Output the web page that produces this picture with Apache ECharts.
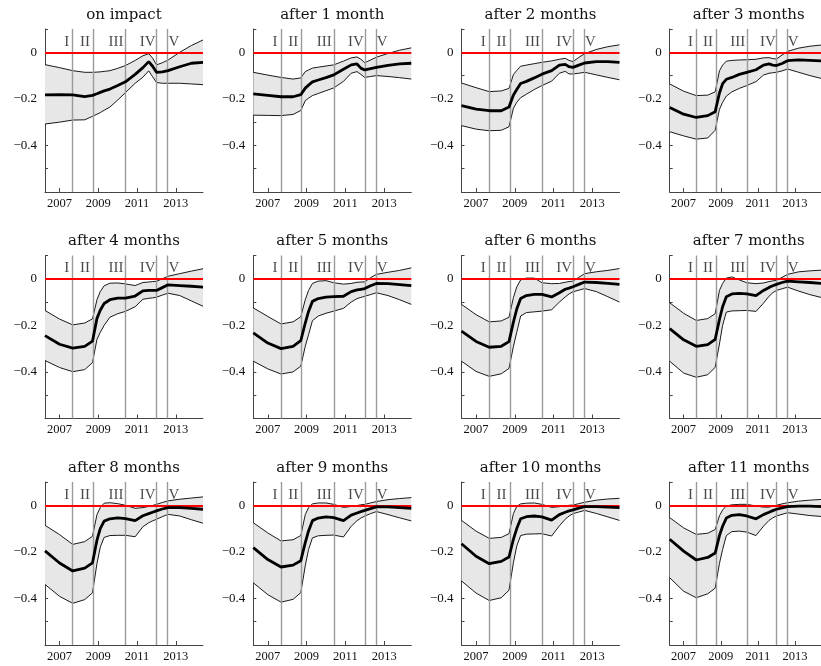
<!DOCTYPE html>
<html><head><meta charset="utf-8">
<script src="https://cdn.jsdelivr.net/npm/echarts@6/dist/echarts.min.js"></script>
<style>html,body{margin:0;padding:0;background:#fff}#c{width:821px;height:666px}</style>
</head><body><div id="c"></div>
<script>
// ---------- data ----------
const titles = ['on impact','after 1 month','after 2 months','after 3 months','after 4 months','after 5 months','after 6 months','after 7 months','after 8 months','after 9 months','after 10 months','after 11 months'];
const years = [2006.25, 2007.0, 2007.68, 2008.3, 2008.7, 2008.93, 2009.1, 2009.3, 2009.6, 2010.0, 2010.4, 2010.9, 2011.3, 2011.6, 2011.8, 2012.0, 2012.3, 2012.6, 2013.2, 2013.8, 2014.4];
const xTickYears = [2007, 2009, 2011, 2013];
const yTickValues = [0.1, 0, -0.1, -0.2, -0.3, -0.4, -0.5, -0.6];
const yLabelValues = [0, -0.2, -0.4];
const regimeBreaks = [2007.68, 2008.74, 2010.41, 2012.0, 2012.57];
const regimeNames = ['I', 'II', 'III', 'IV', 'V'];
const regimeLabelX = [2007.37, 2008.31, 2009.91, 2011.54, 2012.9];
const regimeLabelY = 0.045;

const m0 = [-0.183,-0.182,-0.183,-0.19,-0.185,-0.178,-0.172,-0.166,-0.158,-0.143,-0.127,-0.095,-0.066,-0.04,-0.06,-0.086,-0.084,-0.079,-0.062,-0.047,-0.043];
const up0 = [-0.053,-0.066,-0.079,-0.086,-0.086,-0.085,-0.084,-0.082,-0.079,-0.069,-0.057,-0.035,-0.015,-0.006,-0.025,-0.054,-0.045,-0.033,0.0,0.029,0.053];
const lo0 = [-0.308,-0.300,-0.291,-0.290,-0.275,-0.266,-0.259,-0.249,-0.235,-0.205,-0.173,-0.133,-0.107,-0.08,-0.105,-0.13,-0.133,-0.133,-0.133,-0.136,-0.139];

const m1 = [-0.179,-0.185,-0.191,-0.191,-0.182,-0.154,-0.141,-0.127,-0.119,-0.109,-0.097,-0.073,-0.054,-0.05,-0.068,-0.076,-0.07,-0.065,-0.056,-0.05,-0.047];
const up1 = [-0.086,-0.098,-0.108,-0.115,-0.11,-0.083,-0.076,-0.068,-0.064,-0.059,-0.054,-0.038,-0.024,-0.02,-0.03,-0.045,-0.033,-0.021,-0.005,0.009,0.019];
const lo1 = [-0.27,-0.271,-0.272,-0.267,-0.25,-0.208,-0.197,-0.186,-0.177,-0.165,-0.153,-0.125,-0.09,-0.083,-0.095,-0.108,-0.104,-0.1,-0.104,-0.109,-0.115];

const m2 = [-0.229,-0.244,-0.251,-0.251,-0.235,-0.183,-0.16,-0.134,-0.125,-0.11,-0.094,-0.079,-0.055,-0.052,-0.062,-0.065,-0.055,-0.046,-0.04,-0.04,-0.043];
const up2 = [-0.132,-0.152,-0.169,-0.166,-0.155,-0.095,-0.078,-0.06,-0.055,-0.049,-0.043,-0.037,-0.03,-0.026,-0.035,-0.04,-0.022,-0.006,0.012,0.024,0.032];
const lo2 = [-0.315,-0.33,-0.337,-0.335,-0.32,-0.24,-0.215,-0.195,-0.18,-0.16,-0.143,-0.124,-0.09,-0.082,-0.093,-0.093,-0.09,-0.086,-0.097,-0.108,-0.118];

const m3 = [-0.237,-0.266,-0.28,-0.272,-0.255,-0.175,-0.135,-0.116,-0.108,-0.095,-0.086,-0.075,-0.055,-0.05,-0.055,-0.057,-0.048,-0.036,-0.033,-0.035,-0.037];
const up3 = [-0.136,-0.167,-0.186,-0.184,-0.17,-0.08,-0.055,-0.038,-0.035,-0.033,-0.032,-0.03,-0.024,-0.023,-0.027,-0.029,-0.012,0.004,0.018,0.026,0.031];
const lo3 = [-0.341,-0.359,-0.373,-0.368,-0.335,-0.245,-0.215,-0.188,-0.17,-0.155,-0.143,-0.126,-0.098,-0.09,-0.088,-0.086,-0.08,-0.072,-0.086,-0.1,-0.112];

const m4 = [-0.244,-0.281,-0.298,-0.29,-0.268,-0.17,-0.135,-0.106,-0.09,-0.083,-0.083,-0.074,-0.052,-0.05,-0.05,-0.05,-0.038,-0.026,-0.029,-0.032,-0.036];
const up4 = [-0.136,-0.173,-0.198,-0.19,-0.172,-0.09,-0.055,-0.03,-0.019,-0.018,-0.022,-0.029,-0.016,-0.014,-0.012,-0.011,0.0,0.011,0.022,0.033,0.043];
const lo4 = [-0.351,-0.381,-0.399,-0.39,-0.36,-0.26,-0.23,-0.2,-0.165,-0.15,-0.14,-0.12,-0.088,-0.084,-0.082,-0.079,-0.07,-0.062,-0.072,-0.095,-0.118];

const m5 = [-0.232,-0.276,-0.3,-0.29,-0.266,-0.19,-0.14,-0.097,-0.085,-0.079,-0.077,-0.075,-0.055,-0.048,-0.045,-0.042,-0.03,-0.02,-0.021,-0.025,-0.029];
const up5 = [-0.125,-0.162,-0.194,-0.185,-0.163,-0.09,-0.05,-0.02,-0.01,-0.008,-0.017,-0.023,-0.02,-0.015,-0.014,-0.013,0.005,0.019,0.028,0.036,0.047];
const lo5 = [-0.354,-0.387,-0.409,-0.4,-0.375,-0.29,-0.24,-0.18,-0.16,-0.148,-0.139,-0.127,-0.1,-0.085,-0.08,-0.075,-0.068,-0.06,-0.072,-0.09,-0.11];

const m6 = [-0.225,-0.269,-0.294,-0.29,-0.27,-0.185,-0.13,-0.085,-0.072,-0.067,-0.067,-0.078,-0.06,-0.045,-0.04,-0.034,-0.024,-0.014,-0.016,-0.02,-0.024];
const up6 = [-0.11,-0.154,-0.185,-0.181,-0.165,-0.08,-0.035,-0.005,0.003,0.003,-0.017,-0.021,-0.02,-0.015,-0.012,-0.01,0.006,0.022,0.03,0.036,0.044];
const lo6 = [-0.354,-0.398,-0.419,-0.408,-0.385,-0.29,-0.23,-0.16,-0.145,-0.142,-0.139,-0.133,-0.1,-0.078,-0.065,-0.056,-0.049,-0.042,-0.055,-0.077,-0.1];

const m7 = [-0.214,-0.262,-0.29,-0.283,-0.26,-0.175,-0.12,-0.077,-0.065,-0.063,-0.065,-0.072,-0.05,-0.037,-0.03,-0.024,-0.016,-0.01,-0.013,-0.016,-0.02];
const up7 = [-0.103,-0.148,-0.179,-0.171,-0.15,-0.05,-0.02,0.003,0.008,-0.005,-0.017,-0.021,-0.018,-0.012,-0.009,-0.007,0.006,0.019,0.03,0.034,0.037];
const lo7 = [-0.354,-0.405,-0.423,-0.412,-0.38,-0.28,-0.2,-0.143,-0.138,-0.137,-0.136,-0.14,-0.105,-0.075,-0.06,-0.05,-0.043,-0.036,-0.053,-0.068,-0.08];

const m8 = [-0.196,-0.248,-0.282,-0.27,-0.247,-0.15,-0.1,-0.068,-0.058,-0.054,-0.057,-0.066,-0.045,-0.036,-0.03,-0.024,-0.016,-0.01,-0.01,-0.013,-0.017];
const up8 = [-0.086,-0.126,-0.168,-0.156,-0.133,-0.04,-0.01,0.009,0.011,0.007,0.0,-0.013,-0.01,-0.005,-0.001,0.004,0.012,0.019,0.026,0.031,0.036];
const lo8 = [-0.34,-0.391,-0.421,-0.405,-0.376,-0.25,-0.18,-0.138,-0.13,-0.129,-0.129,-0.135,-0.092,-0.075,-0.067,-0.06,-0.049,-0.039,-0.046,-0.062,-0.077];

const m9 = [-0.182,-0.233,-0.265,-0.257,-0.238,-0.16,-0.11,-0.066,-0.055,-0.05,-0.053,-0.066,-0.042,-0.033,-0.027,-0.022,-0.014,-0.007,-0.007,-0.01,-0.013];
const up9 = [-0.075,-0.119,-0.153,-0.148,-0.13,-0.04,-0.01,0.006,0.01,0.01,0.004,-0.009,-0.005,-0.001,0.002,0.004,0.01,0.016,0.024,0.029,0.033];
const lo9 = [-0.333,-0.384,-0.416,-0.404,-0.375,-0.26,-0.19,-0.14,-0.131,-0.129,-0.128,-0.136,-0.09,-0.066,-0.055,-0.046,-0.036,-0.027,-0.04,-0.054,-0.067];

const m10 = [-0.165,-0.219,-0.251,-0.241,-0.222,-0.145,-0.1,-0.058,-0.049,-0.046,-0.05,-0.064,-0.04,-0.03,-0.024,-0.02,-0.012,-0.006,-0.006,-0.008,-0.01];
const up10 = [-0.065,-0.111,-0.142,-0.138,-0.122,-0.035,-0.005,0.006,0.009,0.01,0.004,-0.009,-0.006,-0.002,0.0,0.001,0.007,0.013,0.022,0.027,0.03];
const lo10 = [-0.325,-0.377,-0.409,-0.397,-0.365,-0.245,-0.175,-0.13,-0.124,-0.123,-0.122,-0.132,-0.088,-0.06,-0.046,-0.036,-0.029,-0.022,-0.035,-0.05,-0.065];

const m11 = [-0.146,-0.197,-0.235,-0.224,-0.205,-0.13,-0.09,-0.055,-0.043,-0.04,-0.046,-0.058,-0.04,-0.03,-0.023,-0.017,-0.011,-0.006,-0.004,-0.004,-0.006];
const up11 = [-0.053,-0.097,-0.125,-0.12,-0.104,-0.045,-0.02,-0.003,0.002,0.004,0.004,-0.003,-0.008,-0.008,-0.004,0.0,0.006,0.011,0.018,0.022,0.025];
const lo11 = [-0.311,-0.369,-0.397,-0.38,-0.356,-0.25,-0.19,-0.13,-0.113,-0.111,-0.115,-0.13,-0.09,-0.065,-0.054,-0.046,-0.039,-0.032,-0.038,-0.044,-0.048];

const means = [m0,m1,m2,m3,m4,m5,m6,m7,m8,m9,m10,m11];
const uppers = [up0,up1,up2,up3,up4,up5,up6,up7,up8,up9,up10,up11];
const lowers = [lo0,lo1,lo2,lo3,lo4,lo5,lo6,lo7,lo8,lo9,lo10,lo11];

// ---------- layout ----------
const colLeft = [45, 253.3, 461.5, 669.7];
const rowTop = [29, 255.5, 482];
const gw = 158, gh = 163;
const serif = '"Liberation Serif", "DejaVu Serif", serif';

const grid = [], xAxis = [], yAxis = [], series = [], graphic = [];
const fmtY = v => (v === 0 ? '0' : (v < 0 ? '\u2212' : '') + Math.abs(v).toFixed(1));

function bandRenderer(lo, up) {
  return function (params, api) {
    if (params.dataIndex !== 0) return null;
    const top = years.map((x, j) => api.coord([x, up[j]]));
    const bot = years.map((x, j) => api.coord([x, lo[j]])).reverse();
    return {type: 'polygon', shape: {points: top.concat(bot)}, style: {fill: '#e7e7e7', stroke: null}, silent: true};
  };
}

for (let i = 0; i < 12; i++) {
  const r = Math.floor(i / 4), c = i % 4;
  const L = colLeft[c], T = rowTop[r];
  grid.push({left: L, top: T, width: gw, height: gh, containLabel: false});
  xAxis.push({
    type: 'value', gridIndex: i, min: 2006.25, max: 2014.4,
    axisLine: {show: true, onZero: false, lineStyle: {color: '#444', width: 1}},
    axisTick: {show: true, inside: true, length: 4, customValues: xTickYears, lineStyle: {color: '#444'}},
    axisLabel: {show: true, customValues: xTickYears, margin: 5, color: '#111', fontFamily: serif, fontSize: 12.5, formatter: v => String(Math.round(v))},
    splitLine: {show: false}
  });
  yAxis.push({
    type: 'value', gridIndex: i, min: -0.6, max: 0.1,
    axisLine: {show: true, onZero: false, lineStyle: {color: '#444', width: 1}},
    axisTick: {show: true, inside: true, length: 3, customValues: yTickValues, lineStyle: {color: '#444'}},
    axisLabel: {show: true, customValues: yLabelValues, margin: 8, color: '#111', fontFamily: serif, fontSize: 13, formatter: fmtY},
    splitLine: {show: false}
  });
  const lo = lowers[i], up = uppers[i], m = means[i];
  series.push({
    type: 'custom', xAxisIndex: i, yAxisIndex: i, silent: true, animation: false, z: 1,
    data: years.map((x, j) => [x, lo[j], up[j]]), encode: {x: 0, y: [1, 2]},
    renderItem: bandRenderer(lo, up)
  });
  series.push({
    type: 'line', xAxisIndex: i, yAxisIndex: i,
    data: years.map((x, j) => [x, lo[j]]), symbol: 'none', silent: true, animation: false,
    lineStyle: {color: '#000', width: 0.9}, z: 2
  });
  series.push({
    type: 'line', xAxisIndex: i, yAxisIndex: i,
    data: years.map((x, j) => [x, up[j]]), symbol: 'none', silent: true, animation: false,
    lineStyle: {color: '#000', width: 0.9}, z: 2,
    markLine: {
      silent: true, symbol: ['none', 'none'], animation: false, label: {show: false}, z: 5,
      data: regimeBreaks.map(v => ({xAxis: v, lineStyle: {color: '#9a9a9a', width: 1.4, type: 'solid'}}))
        .concat([{yAxis: 0, lineStyle: {color: '#ff0000', width: 2, type: 'solid'}}])
    }
  });
  series.push({
    type: 'line', xAxisIndex: i, yAxisIndex: i,
    data: years.map((x, j) => [x, m[j]]), symbol: 'none', silent: true, animation: false,
    lineStyle: {color: '#000', width: 2.8}, z: 6
  });
  series.push({
    type: 'scatter', xAxisIndex: i, yAxisIndex: i, silent: true, animation: false,
    data: regimeLabelX.map(x => [x, regimeLabelY]), symbolSize: 1, itemStyle: {color: 'rgba(0,0,0,0)'}, z: 7,
    label: {show: true, position: 'inside', formatter: p => regimeNames[p.dataIndex], color: '#1a1a1a', fontFamily: serif, fontSize: 15}
  });
  graphic.push({
    type: 'text', x: L + gw / 2, y: T - 14, silent: true,
    style: {text: titles[i], textAlign: 'center', textVerticalAlign: 'middle', fill: '#111', font: '15px "DejaVu Serif", serif'}
  });
}

const chart = echarts.init(document.getElementById('c'), null, {renderer: 'canvas'});
chart.setOption({animation: false, grid, xAxis, yAxis, series, graphic});
</script>
</body></html>
